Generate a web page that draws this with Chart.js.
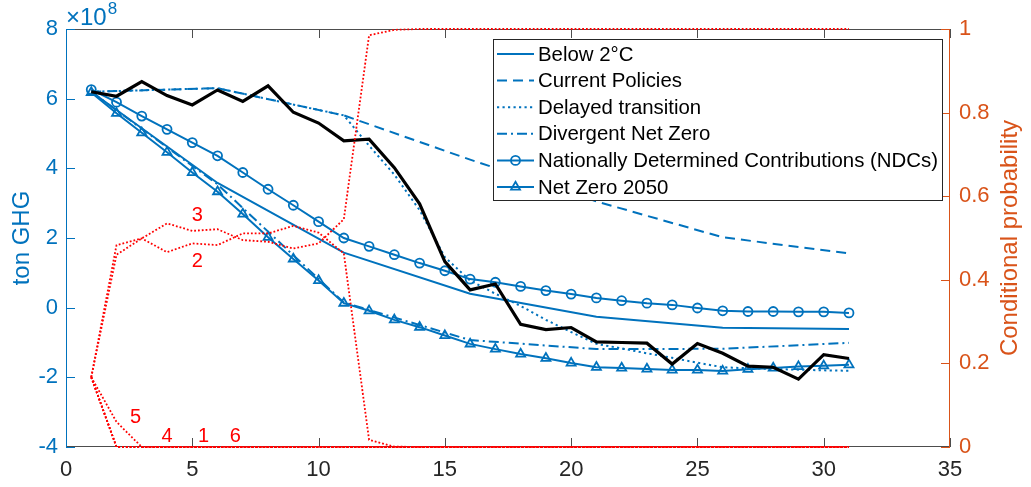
<!DOCTYPE html>
<html>
<head>
<meta charset="utf-8">
<script src="https://cdn.jsdelivr.net/npm/chart.js"></script>
<style>
html, body { margin: 0; padding: 0; background: #fff; }
#wrap { width: 1031px; height: 487px; }
</style>
</head>
<body>
<div id="wrap"><canvas id="chart" width="1031" height="487"></canvas></div>
<script>
// ---- data (emissions in units of 1e8 ton GHG, probabilities 0..1) ----
const steps = [1, 2, 3, 4, 5, 6, 7, 8, 9, 10, 11, 12, 13, 14, 15, 16, 17, 18, 19, 20, 21, 22, 23, 24, 25, 26, 27, 28, 29, 30, 31];
const knotSteps = [1, 6, 11, 16, 21, 26, 31];

const observed = [6.20, 6.07, 6.49, 6.09, 5.82, 6.25, 5.92, 6.37, 5.61, 5.30, 4.79, 4.84, 4.02, 2.98, 1.32, 0.51,
    0.68, -0.48, -0.63, -0.57, -0.98, -1.00, -1.02, -1.62, -1.03, -1.31, -1.68, -1.71, -2.05, -1.35, -1.46];
const ndcs = [6.26, 5.90, 5.50, 5.12, 4.74, 4.36, 3.88, 3.40, 2.94, 2.47, 2.00, 1.76, 1.52, 1.28, 1.06, 0.82,
    0.73, 0.61, 0.49, 0.39, 0.28, 0.20, 0.13, 0.08, -0.01, -0.09, -0.11, -0.11, -0.12, -0.12, -0.15];
const netZero2050 = [6.18, 5.58, 5.02, 4.46, 3.88, 3.33, 2.69, 2.02, 1.40, 0.78, 0.13, -0.09, -0.35, -0.56, -0.80, -1.04,
    -1.19, -1.33, -1.45, -1.59, -1.71, -1.73, -1.76, -1.79, -1.79, -1.82, -1.77, -1.73, -1.69, -1.67, -1.64];
const below2C = [6.20, 3.58, 1.58, 0.40, -0.26, -0.58, -0.61];
const currentPolicies = [6.20, 6.30, 5.52, 4.25, 3.05, 2.02, 1.56];
const divergentNetZero = [6.20, 3.54, 0.15, -0.93, -1.19, -1.18, -1.01];
const delayedSteps = [1, 6, 11, 12, 13, 14, 15, 16, 17, 18, 19, 20, 21, 22, 23, 24, 25, 26, 27, 28, 29, 30, 31];
const delayedTransition = [6.20, 6.30, 5.52, 4.65, 3.82, 2.80, 1.45, 0.78, 0.40, 0.05, -0.35, -0.70, -1.04,
    -1.17, -1.31, -1.44, -1.58, -1.71, -1.74, -1.76, -1.78, -1.80, -1.81];

const prob1 = [0.167, 0, 0, 0, 0, 0, 0, 0, 0, 0, 0, 0, 0, 0, 0, 0, 0, 0, 0, 0, 0, 0, 0, 0, 0, 0, 0, 0, 0, 0, 0];
const prob2 = [0.167, 0.483, 0.499, 0.466, 0.487, 0.483, 0.511, 0.511, 0.529, 0.513, 0.463, 0.017, 0.001,
    0, 0, 0, 0, 0, 0, 0, 0, 0, 0, 0, 0, 0, 0, 0, 0, 0, 0];
const prob3 = [0.167, 0.460, 0.499, 0.535, 0.517, 0.521, 0.495, 0.491, 0.475, 0.487, 0.545, 0.985, 0.998,
    1, 1, 1, 1, 1, 1, 1, 1, 1, 1, 1, 1, 1, 1, 1, 1, 1, 1];
const prob4 = [0.167, 0, 0, 0, 0, 0, 0, 0, 0, 0, 0, 0, 0, 0, 0, 0, 0, 0, 0, 0, 0, 0, 0, 0, 0, 0, 0, 0, 0, 0, 0];
const prob5 = [0.167, 0.060, 0, 0, 0, 0, 0, 0, 0, 0, 0, 0, 0, 0, 0, 0, 0, 0, 0, 0, 0, 0, 0, 0, 0, 0, 0, 0, 0, 0, 0];
const prob6 = [0.167, 0, 0, 0, 0, 0, 0, 0, 0, 0, 0, 0, 0, 0, 0, 0, 0, 0, 0, 0, 0, 0, 0, 0, 0, 0, 0, 0, 0, 0, 0];

// red curve labels: text, x, probability
const probLabels = ['3', '2', '5', '4', '1', '6'];
const probLabelX = [5.2, 5.2, 2.75, 4.0, 5.45, 6.7];
const probLabelP = [0.555, 0.443, 0.071, 0.026, 0.026, 0.026];

const xTicks = [0, 5, 10, 15, 20, 25, 30, 35];

const FONT = '"Liberation Sans", Arial, Helvetica, sans-serif';
const BLUE = '#0072BD';
const ORANGE = '#D95319';
const RED = '#FF0000';
const AXIS_GRAY = '#262626';

function pts(xs, ys) {
    return xs.map((x, i) => ({ x: x, y: ys[i] }));
}

function probSet(values) {
    return {
        data: pts(steps, values), yAxisID: 'y1', borderColor: RED, borderWidth: 1.8,
        borderDash: [1.8, 2], pointRadius: 0, clip: false, fill: false, tension: 0
    };
}

function blueSet(label, xs, ys, dash, pointStyle, legendIndex) {
    return {
        label: label, data: pts(xs, ys), yAxisID: 'y', borderColor: BLUE, borderWidth: 2,
        borderDash: dash, pointStyle: pointStyle || 'circle',
        pointRadius: pointStyle === 'triangle' ? 5.2 : (pointStyle ? 4.5 : 0),
        pointBorderWidth: 1.8, pointBorderColor: BLUE, pointBackgroundColor: 'rgba(0,0,0,0)',
        fill: false, tension: 0, legendIndex: legendIndex
    };
}

const datasets = [
    probSet(prob1), probSet(prob2), probSet(prob3), probSet(prob4), probSet(prob5), probSet(prob6),
    {
        data: pts(steps, observed), yAxisID: 'y', borderColor: '#000', borderWidth: 3.2,
        pointRadius: 0, fill: false, tension: 0
    },
    blueSet('Nationally Determined Contributions (NDCs)', steps, ndcs, [], 'circle', 4),
    blueSet('Net Zero 2050', steps, netZero2050, [], 'triangle', 5),
    blueSet('Below 2\u00B0C', knotSteps, below2C, [], null, 0),
    blueSet('Current Policies', knotSteps, currentPolicies, [10, 6], null, 1),
    blueSet('Delayed transition', delayedSteps, delayedTransition, [2.2, 3.3], null, 2),
    blueSet('Divergent Net Zero', knotSteps, divergentNetZero, [10, 4, 2, 4], null, 3)
];

// axis box and inward ticks, MATLAB style
const axisDecor = {
    id: 'axisDecor',
    beforeDatasetsDraw(chart) {
        const { ctx, chartArea: a, scales } = chart;
        ctx.save();
        ctx.lineWidth = 1;
        ctx.strokeStyle = '#4d4d4d';
        ctx.beginPath();
        ctx.moveTo(a.left, a.top + 0.5); ctx.lineTo(a.right, a.top + 0.5);
        ctx.moveTo(a.left, a.bottom - 0.5); ctx.lineTo(a.right, a.bottom - 0.5);
        xTicks.forEach(v => {
            const px = Math.round(scales.x.getPixelForValue(v)) + 0.5;
            ctx.moveTo(px, a.bottom); ctx.lineTo(px, a.bottom - 9);
            ctx.moveTo(px, a.top); ctx.lineTo(px, a.top + 9);
        });
        ctx.stroke();

        ctx.strokeStyle = BLUE;
        ctx.beginPath();
        ctx.moveTo(a.left + 0.5, a.top); ctx.lineTo(a.left + 0.5, a.bottom);
        scales.y.ticks.forEach(t => {
            const py = Math.round(scales.y.getPixelForValue(t.value)) + 0.5;
            ctx.moveTo(a.left, py); ctx.lineTo(a.left + 9, py);
        });
        ctx.stroke();

        ctx.strokeStyle = ORANGE;
        ctx.beginPath();
        ctx.moveTo(a.right - 0.5, a.top); ctx.lineTo(a.right - 0.5, a.bottom);
        scales.y1.ticks.forEach(t => {
            const py = Math.round(scales.y1.getPixelForValue(t.value)) + 0.5;
            ctx.moveTo(a.right, py); ctx.lineTo(a.right - 9, py);
        });
        ctx.stroke();
        ctx.restore();
    },
    afterDatasetsDraw(chart) {
        const { ctx, chartArea: a, scales } = chart;
        ctx.save();
        // labels on the probability curves
        ctx.fillStyle = RED;
        ctx.font = '20px ' + FONT;
        ctx.textAlign = 'center';
        ctx.textBaseline = 'middle';
        probLabels.forEach((t, i) => {
            ctx.fillText(t, scales.x.getPixelForValue(probLabelX[i]), scales.y1.getPixelForValue(probLabelP[i]));
        });

        // axis titles
        ctx.font = '24px ' + FONT;
        ctx.fillStyle = BLUE;
        ctx.save();
        ctx.translate(22, (a.top + a.bottom) / 2);
        ctx.rotate(-Math.PI / 2);
        ctx.fillText('ton GHG', 0, 0);
        ctx.restore();
        ctx.fillStyle = ORANGE;
        ctx.save();
        ctx.translate(1010, (a.top + a.bottom) / 2);
        ctx.rotate(-Math.PI / 2);
        ctx.fillText('Conditional probability', 0, 0);
        ctx.restore();

        // exponent label
        ctx.fillStyle = BLUE;
        ctx.textAlign = 'left';
        ctx.textBaseline = 'alphabetic';
        ctx.font = '24px ' + FONT;
        ctx.fillText('\u00D710', 66, 25);
        const w = ctx.measureText('\u00D710').width;
        ctx.font = '17px ' + FONT;
        ctx.fillText('8', 66 + w + 1, 14);

        // legend
        const lx = 493, ly = 39, lw = 449, lh = 161;
        ctx.fillStyle = '#fff';
        ctx.fillRect(lx, ly, lw, lh);
        ctx.strokeStyle = '#262626';
        ctx.lineWidth = 1;
        ctx.strokeRect(lx + 0.5, ly + 0.5, lw, lh);
        const items = chart.data.datasets.filter(d => d.legendIndex !== undefined)
            .sort((p, q) => p.legendIndex - q.legendIndex);
        ctx.font = '20.4px ' + FONT;
        ctx.textBaseline = 'middle';
        items.forEach((d, i) => {
            const cy = 54 + i * 26.6;
            ctx.strokeStyle = d.borderColor;
            ctx.lineWidth = d.borderWidth;
            ctx.setLineDash(d.borderDash || []);
            ctx.beginPath();
            ctx.moveTo(497, cy); ctx.lineTo(534, cy);
            ctx.stroke();
            ctx.setLineDash([]);
            if (d.pointRadius > 0) {
                ctx.lineWidth = d.pointBorderWidth;
                ctx.fillStyle = 'rgba(0,0,0,0)';
                ctx.strokeStyle = d.pointBorderColor;
                Chart.helpers.drawPoint(ctx, { pointStyle: d.pointStyle, radius: d.pointRadius, borderWidth: d.pointBorderWidth }, 515.5, cy);
            }
            ctx.fillStyle = '#000';
            ctx.fillText(d.label, 538, cy + 1);
        });
        ctx.restore();
    }
};

new Chart(document.getElementById('chart'), {
    type: 'line',
    data: { datasets: datasets },
    options: {
        responsive: false,
        animation: false,
        layout: { padding: { top: 29, left: 0, right: 0, bottom: 0 } },
        plugins: { legend: { display: false }, tooltip: { enabled: false } },
        scales: {
            x: {
                type: 'linear', min: 0, max: 35,
                ticks: { stepSize: 5, color: AXIS_GRAY, font: { family: FONT, size: 22 }, padding: 10 },
                grid: { display: false, drawTicks: false }, border: { display: false },
                afterFit: s => { s.height = 40; }
            },
            y: {
                position: 'left', min: -4, max: 8,
                ticks: { stepSize: 2, color: BLUE, font: { family: FONT, size: 22 }, padding: 8 },
                grid: { display: false, drawTicks: false }, border: { display: false },
                afterFit: s => { s.width = 66; }
            },
            y1: {
                position: 'right', min: 0, max: 1,
                ticks: {
                    stepSize: 0.2, color: ORANGE, font: { family: FONT, size: 22 }, padding: 9,
                    callback: v => String(Math.round(v * 10) / 10)
                },
                grid: { display: false, drawTicks: false }, border: { display: false },
                afterFit: s => { s.width = 81; }
            }
        }
    },
    plugins: [axisDecor]
});
</script>
</body>
</html>
